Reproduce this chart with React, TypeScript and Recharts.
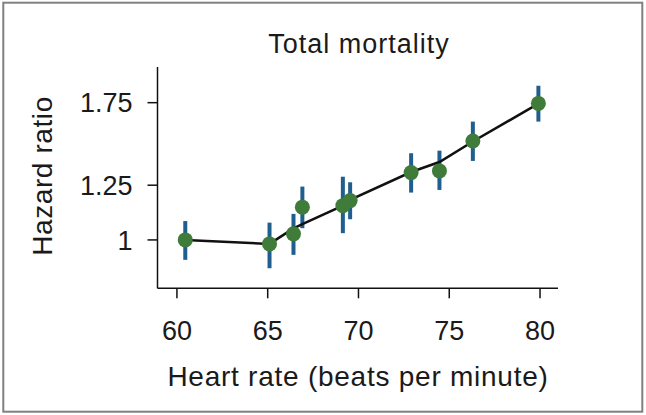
import React from "react";
import { ComposedChart, Line, Scatter, ErrorBar, XAxis, YAxis } from "recharts";

// Heart rate (beats per minute) of each group
const heartRate = [60.46, 65.1, 66.42, 66.91, 69.14, 69.54, 72.9, 74.46, 76.3, 79.91];
// Hazard ratio estimates
const hazard = [1.0, 0.984, 1.025, 1.143, 1.15, 1.174, 1.316, 1.325, 1.497, 1.745];
// 95% CI lower / upper
const ciLow = [0.922, 0.891, 0.941, 1.049, 1.028, 1.088, 1.213, 1.226, 1.38, 1.62];
const ciHigh = [1.08, 1.073, 1.112, 1.243, 1.294, 1.265, 1.424, 1.439, 1.62, 1.875];
// Fitted curve
const fitted = [1.0, 0.984, 1.048, 1.067, 1.15, 1.178, 1.319, 1.374, 1.494, 1.743];

const xTicks = [60, 65, 70, 75, 80];
const yTicks = [1, 1.25, 1.75];

const data = heartRate.map((hr, i) => ({
  hr,
  est: hazard[i],
  fit: fitted[i],
  err: [hazard[i] - ciLow[i], ciHigh[i] - hazard[i]],
}));

const FONT = "'Liberation Sans', Arial, Helvetica, sans-serif";
const TXT = "#1a1a1a";

export default function App() {
  return (
    <div style={{ position: "absolute", left: 0, top: 0, width: 646, height: 415, background: "#fff" }}>
      <ComposedChart
        width={646}
        height={415}
        data={data}
        margin={{ top: 67, right: 88, bottom: 0, left: 0 }}
      >
        <XAxis
          dataKey="hr"
          type="number"
          domain={[58.93, 80.99]}
          ticks={xTicks}
          allowDataOverflow
          height={126.7}
          tickSize={10}
          tickMargin={23}
          axisLine={{ stroke: "#111", strokeWidth: 1.5 }}
          tickLine={{ stroke: "#111", strokeWidth: 1.5 }}
          tick={{ fill: TXT, fontSize: 27, fontFamily: FONT }}
        />
        <YAxis
          type="number"
          scale="log"
          domain={[0.821, 2.024]}
          ticks={yTicks}
          allowDataOverflow
          width={157.5}
          tickSize={10}
          tickMargin={15}
          axisLine={{ stroke: "#111", strokeWidth: 1.5 }}
          tickLine={{ stroke: "#111", strokeWidth: 1.5 }}
          tick={{ fill: TXT, fontSize: 27, fontFamily: FONT }}
        />
        <Scatter dataKey="est" isAnimationActive={false} shape={() => <g />}>
          <ErrorBar dataKey="err" direction="y" width={0} stroke="#1f5f8f" strokeWidth={4} isAnimationActive={false} />
        </Scatter>
        <Line
          dataKey="fit"
          type="linear"
          stroke="#111"
          strokeWidth={2.5}
          dot={false}
          activeDot={false}
          isAnimationActive={false}
        />
        <Scatter
          dataKey="est"
          isAnimationActive={false}
          shape={(p: any) => <circle cx={p.cx} cy={p.cy} r={7.5} fill="#3f7c3a" />}
        />
      </ComposedChart>
      <svg
        width={646}
        height={415}
        style={{ position: "absolute", left: 0, top: 0, pointerEvents: "none" }}
      >
        <rect x={3.3} y={2.7} width={639} height={409} fill="none" stroke="#808080" strokeWidth={2} />
        <text x={359} y={53.3} textAnchor="middle" fontSize={27} letterSpacing={1} fontFamily={FONT} fill={TXT}>
          Total mortality
        </text>
        <text x={358} y={385.7} textAnchor="middle" fontSize={28} letterSpacing={0.75} fontFamily={FONT} fill={TXT}>
          Heart rate (beats per minute)
        </text>
        <text
          transform="translate(52.3,176) rotate(-90)"
          x={0}
          y={0}
          textAnchor="middle"
          fontSize={28}
          letterSpacing={0.6}
          fontFamily={FONT}
          fill={TXT}
        >
          Hazard ratio
        </text>
      </svg>
    </div>
  );
}
